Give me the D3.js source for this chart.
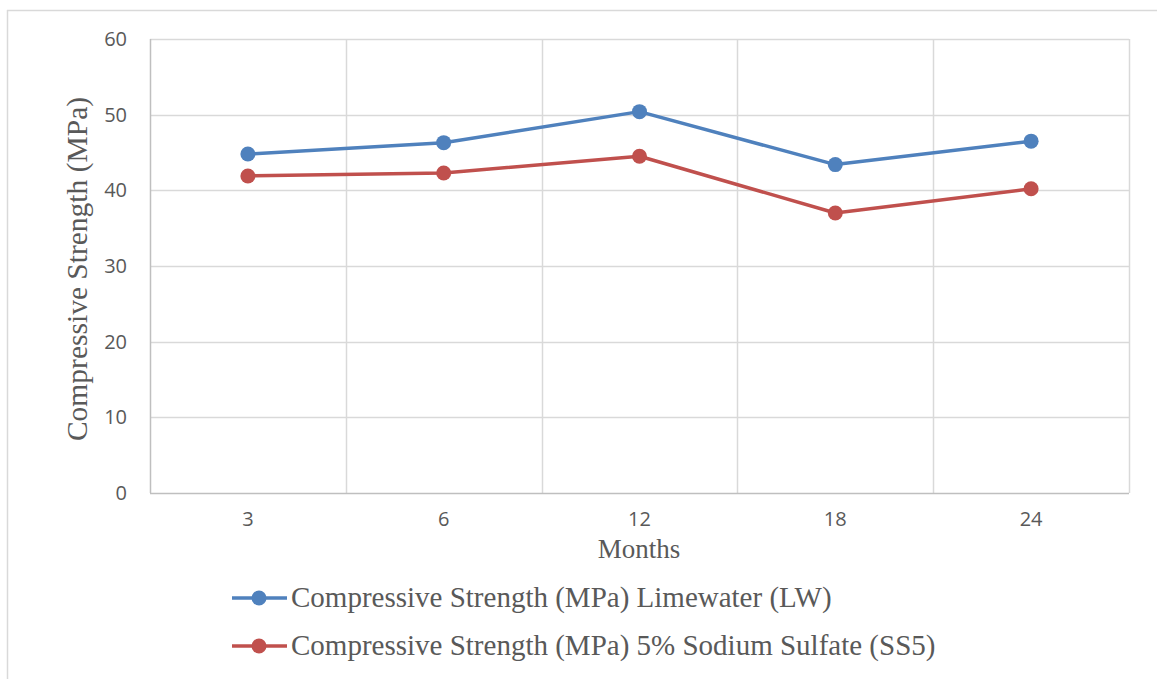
<!DOCTYPE html>
<html>
<head>
<meta charset="utf-8">
<script src="https://cdn.jsdelivr.net/npm/d3@7"></script>
<style>
  body { margin: 0; background: #fff; }
  svg { display: block; }
</style>
</head>
<body>
<svg id="chart" width="1157" height="679"></svg>
<script>
// data
var months = ["3", "6", "12", "18", "24"]
var limewater = [44.8, 46.3, 50.4, 43.4, 46.5]
var sodiumSulfate = [41.9, 42.3, 44.5, 37.0, 40.2]
var yTicks = [0, 10, 20, 30, 40, 50, 60]

var seriesNames = ["Compressive Strength (MPa) Limewater (LW)",
                   "Compressive Strength (MPa) 5% Sodium Sulfate (SS5)"]
var seriesColors = ["#4f81bd", "#c0504d"]
var seriesValues = [limewater, sodiumSulfate]

function drawChart() {
    var svg = d3.select("#chart")
    var textColor = "#595959"
    var tickFont = "'Open Sans', sans-serif"
    var serifFont = "'Liberation Serif', 'Times New Roman', serif"

    // outer frame (only top and left edges show)
    svg.append("line").attr("x1", 7).attr("x2", 1157).attr("y1", 10.5).attr("y2", 10.5)
       .attr("stroke", "#d9d9d9").attr("stroke-width", 1.5)
    svg.append("line").attr("x1", 7.5).attr("x2", 7.5).attr("y1", 10).attr("y2", 679)
       .attr("stroke", "#d9d9d9").attr("stroke-width", 1.5)

    var plotLeft = 150, plotRight = 1129, plotTop = 39, plotBottom = 493

    var xScale = d3.scaleBand().domain(months).range([plotLeft, plotRight])
    var yScale = d3.scaleLinear().domain([0, 60]).range([plotBottom, plotTop])

    // horizontal gridlines
    svg.append("g").selectAll("line")
       .data(yTicks.filter(function(d) { return d > 0 }))
       .enter().append("line")
       .attr("x1", plotLeft).attr("x2", plotRight)
       .attr("y1", function(d) { return Math.round(yScale(d)) + 0.5 })
       .attr("y2", function(d) { return Math.round(yScale(d)) + 0.5 })
       .attr("stroke", "#d9d9d9").attr("stroke-width", 1.5)

    // vertical gridlines at band boundaries
    var bounds = months.map(function(m) { return xScale(m) }).concat([plotRight])
    svg.append("g").selectAll("line")
       .data(bounds)
       .enter().append("line")
       .attr("x1", function(d) { return Math.round(d) + 0.5 })
       .attr("x2", function(d) { return Math.round(d) + 0.5 })
       .attr("y1", plotTop).attr("y2", plotBottom)
       .attr("stroke", function(d, i) { return i == 0 ? "#bfbfbf" : "#d9d9d9" })
       .attr("stroke-width", 1.5)

    // x axis baseline
    svg.append("line").attr("x1", plotLeft).attr("x2", plotRight)
       .attr("y1", plotBottom + 0.5).attr("y2", plotBottom + 0.5)
       .attr("stroke", "#bfbfbf").attr("stroke-width", 1.5)

    // y tick labels
    var yAxis = svg.append("g").attr("transform", "translate(" + plotLeft + ",0)")
       .call(d3.axisLeft(yScale).tickValues(yTicks).tickSize(0).tickPadding(23))
    yAxis.select(".domain").remove()
    yAxis.attr("font-size", 20).attr("font-family", tickFont)
    yAxis.selectAll("text").attr("fill", textColor)

    // x tick labels
    var xAxis = svg.append("g").attr("transform", "translate(0," + plotBottom + ")")
       .call(d3.axisBottom(xScale).tickSize(0).tickPadding(19))
    xAxis.select(".domain").remove()
    xAxis.attr("font-size", 20).attr("font-family", tickFont)
    xAxis.selectAll("text").attr("fill", textColor)

    // axis titles
    svg.append("text")
       .attr("transform", "translate(87," + ((plotTop + plotBottom) / 2 + 3) + ") rotate(-90)")
       .attr("text-anchor", "middle")
       .attr("fill", textColor)
       .style("font-family", serifFont).style("font-size", "29.5px")
       .text("Compressive Strength (MPa)")

    svg.append("text")
       .attr("x", 639).attr("y", 558)
       .attr("text-anchor", "middle")
       .attr("fill", textColor)
       .style("font-family", serifFont).style("font-size", "27px")
       .text("Months")

    // lines and markers
    var line = d3.line()
       .x(function(d, i) { return xScale(months[i]) + xScale.bandwidth() / 2 })
       .y(function(d) { return yScale(d) })

    seriesValues.forEach(function(vals, s) {
        svg.append("path")
           .attr("d", line(vals))
           .attr("fill", "none")
           .attr("stroke", seriesColors[s])
           .attr("stroke-width", 3.5)
           .attr("stroke-linejoin", "round")
        svg.append("g").selectAll("circle")
           .data(vals)
           .enter().append("circle")
           .attr("cx", function(d, i) { return xScale(months[i]) + xScale.bandwidth() / 2 })
           .attr("cy", function(d) { return yScale(d) })
           .attr("r", 7.5)
           .attr("fill", seriesColors[s])
    })

    // legend
    var legend = svg.append("g").selectAll("g")
       .data(seriesNames)
       .enter().append("g")
       .attr("transform", function(d, i) { return "translate(232," + (598 + i * 48) + ")" })

    legend.append("line").attr("x1", 0).attr("x2", 55).attr("y1", 0).attr("y2", 0)
       .attr("stroke", function(d, i) { return seriesColors[i] }).attr("stroke-width", 3.5)
    legend.append("circle").attr("cx", 27).attr("cy", 0).attr("r", 7.5)
       .attr("fill", function(d, i) { return seriesColors[i] })
    legend.append("text").attr("x", 59).attr("y", 9)
       .attr("fill", textColor)
       .style("font-family", serifFont).style("font-size", "29px")
       .text(function(d) { return d })
}

drawChart()
</script>
</body>
</html>
